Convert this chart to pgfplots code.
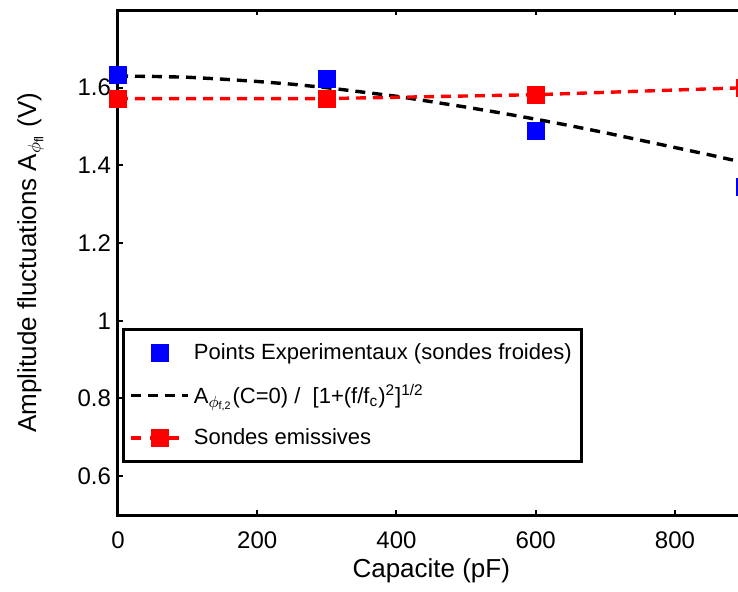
\documentclass[border=0pt]{standalone}
\usepackage{fontspec}
\setmainfont{Liberation Sans}
\usepackage{pgfplots}
\pgfplotsset{compat=1.18}
\pgfplotsset{
  legmark/.style={legend image code/.code={\draw[##1] plot coordinates {(0.5cm,0cm)};}},
  legline/.style={legend image code/.code={\draw[##1] (0cm,0cm) -- (1cm,0cm);}},
  leglinemark/.style={legend image code/.code={\draw[##1, mark repeat=2, mark phase=2, dash pattern=on 5pt off 4.5pt] plot coordinates {(0cm,0cm) (0.5cm,0cm) (1cm,0cm)};}},
}
\begin{document}
\begin{tikzpicture}
\begin{axis}[
  name=ax,
  scale only axis, width=313.3pt, height=252.5pt,
  xmin=0, xmax=900, ymin=0.5, ymax=1.8,
  xtick={0,200,400,600,800},
  ytick={0.6,0.8,1.0,1.2,1.4,1.6},
  yticklabels={0.6,0.8,1,1.2,1.4,1.6},
  tick align=inside, major tick length=2.5pt,
  axis line style={line width=1.5pt},
  every tick/.style={black, line width=1pt},
  tick label style={font=\fontsize{12}{14}\selectfont},
  /pgf/number format/assume math mode=true,
  xticklabel shift=5pt,
  label style={font=\fontsize{13}{15}\selectfont},
  xlabel={Capacite (pF)},
  xlabel style={yshift=2pt},
  ylabel={Amplitude fluctuations A\textsubscript{$\phi$\textsubscript{fl}} (V)},
  ylabel shift=10pt,
  clip=false,
  legend cell align=left,
  legend style={at={(axis description cs:0.0065,0.370)}, anchor=north west,
    draw=black, line width=1.5pt, font=\fontsize{11}{13}\selectfont,
    row sep=7pt, inner xsep=3pt, inner ysep=5pt},
]
\addplot[only marks, mark=square*, mark size=4.25pt, mark options={draw=blue, fill=blue, line width=0.4pt}, legmark]
  coordinates {(0,1.634) (300,1.623) (600,1.490) (900,1.345)};
\addlegendentry{Points Experimentaux (sondes froides)}
\addplot[black, line width=1.7pt, dash pattern=on 5pt off 3.5pt, legline]
  coordinates {(0,1.630) (50,1.629) (100,1.627) (150,1.622) (200,1.616) (250,1.609) (300,1.600) (350,1.589) (400,1.578) (450,1.564) (500,1.550) (550,1.535) (600,1.519) (650,1.502) (700,1.484) (750,1.465) (800,1.446) (850,1.427) (900,1.407)};
\addlegendentry{A\textsubscript{$\phi$\textsubscript{f,2}}(C=0) /\ \ [1+(f/f\textsubscript{c})\textsuperscript{2}]\textsuperscript{1/2}}
\addplot[red, line width=1.7pt, dash pattern=on 5pt off 3.5pt, mark=square*, mark size=4.25pt, mark options={solid, draw=red, fill=red, line width=0.4pt}, leglinemark]
  coordinates {(0,1.572) (300,1.572) (600,1.582) (900,1.600)};
\addlegendentry{Sondes emissives}
\end{axis}
\pgfresetboundingbox
\path[use as bounding box] ([xshift=-59pt,yshift=-38pt]ax.south west) rectangle ([xshift=310pt,yshift=5pt]ax.north west);
\end{tikzpicture}
\end{document}
